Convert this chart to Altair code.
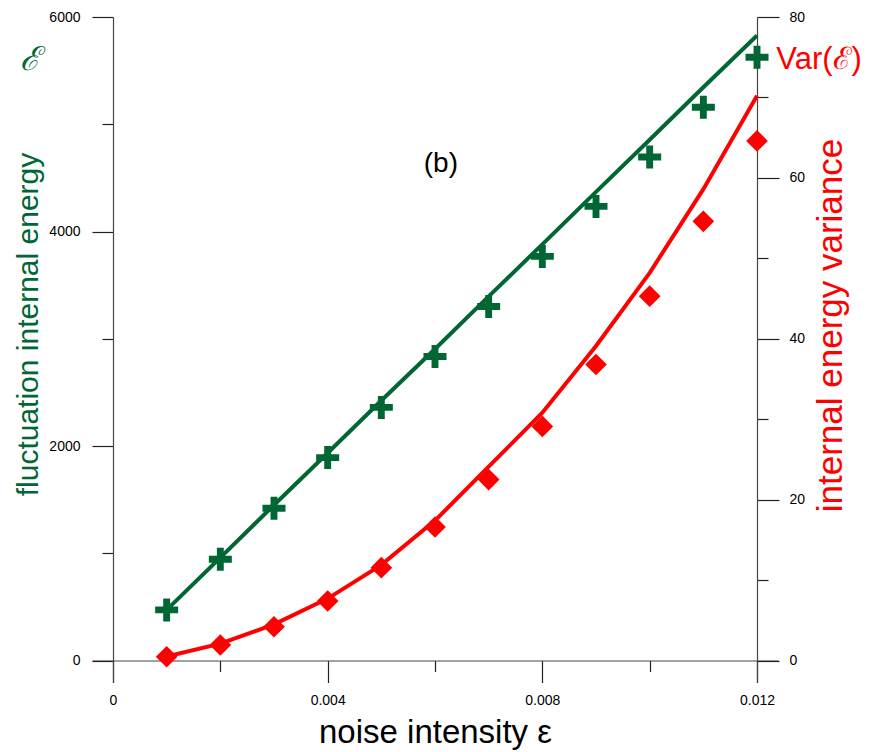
import altair as alt
import pandas as pd

# ---- data ----
noise = [0.001, 0.002, 0.003, 0.004, 0.005, 0.006, 0.007, 0.008, 0.009, 0.010, 0.011, 0.012]
energy_pts = [472, 944, 1420, 1892, 2360, 2835, 3301, 3768, 4234, 4695, 5158, 5625]
energy_line = [472, 960, 1450, 1935, 2425, 2905, 3395, 3880, 4370, 4855, 5345, 5828]
var_pts = [0.47, 1.93, 4.2, 7.4, 11.55, 16.6, 22.5, 29.1, 36.8, 45.3, 54.6, 64.6]
var_line = [0.5, 2.1, 4.5, 7.7, 11.9, 17.4, 24.1, 30.8, 39.1, 48.2, 58.6, 70.2]

x_ticks = [0, 0.002, 0.004, 0.006, 0.008, 0.010, 0.012]
yl_ticks = [0, 1000, 2000, 3000, 4000, 5000, 6000]
yr_ticks = [0, 10, 20, 30, 40, 50, 60, 70, 80]

GREEN = "#006633"
RED = "#ff0000"
FONT = "Liberation Sans"

df = pd.DataFrame({"x": noise, "ep": energy_pts, "el": energy_line,
                   "vp": var_pts, "vl": var_line})

# annotations (data coordinates, left scale)
ann_b = pd.DataFrame({"x": [0.00611], "y": [4630], "t": ["(b)"]})
ann_e = pd.DataFrame({"x": [-0.00155], "y": [5600], "t": ["ℰ"]})
ann_v = pd.DataFrame({"x": [0.01236], "y": [5600], "t": ["Var(ℰ)"]})

x_axis = alt.Axis(
    values=x_ticks, format=".3~f", orient="bottom", offset=-21.5,
    labelExpr="round(datum.value*1000) % 4 == 0 ? datum.label : ''",
    tickSize={"condition": {"test": "round(datum.value*1000) % 4 == 0", "value": 22}, "value": 11},
    labelPadding=11, labelFont=FONT, labelFontSize=14, labelColor="black",
    labelOverlap=False, labelFlush=False, labelBound=False,
    domainColor="#444", tickColor="#222", domainWidth=1.2, tickWidth=1.2, grid=False,
    title="noise intensity ε", titleFont=FONT, titleFontSize=33, titleFontWeight="normal",
    titleColor="black", titleX=343, titleY=82, titleBaseline="alphabetic", titleAlign="center",
)

yl_axis = alt.Axis(
    values=yl_ticks, format="d", orient="left", offset=-21,
    labelExpr="datum.value % 2000 == 0 ? datum.label : ''",
    tickSize={"condition": {"test": "datum.value % 2000 == 0", "value": 21}, "value": 11},
    labelPadding=12, labelFont=FONT, labelFontSize=14, labelColor="black",
    labelOverlap=False, labelFlush=False, labelBound=False,
    domainColor="#444", tickColor="#222", domainWidth=1.2, tickWidth=1.2, grid=False,
    title="fluctuation internal energy", titleFont=FONT, titleFontSize=30,
    titleFontWeight="normal", titleColor=GREEN, titleAngle=270,
    titleX=-76, titleY=307, titleBaseline="alphabetic", titleAlign="center",
)

yr_axis = alt.Axis(
    values=yr_ticks, format="d", orient="right", offset=-21,
    labelExpr="datum.value % 20 == 0 ? datum.label : ''",
    tickSize={"condition": {"test": "datum.value % 20 == 0", "value": 22}, "value": 11},
    labelPadding=10, labelFont=FONT, labelFontSize=14, labelColor="black",
    labelOverlap=False, labelFlush=False, labelBound=False,
    domainColor="#444", tickColor="#222", domainWidth=1.2, tickWidth=1.2, grid=False,
    title="internal energy variance", titleFont=FONT, titleFontSize=35,
    titleFontWeight="normal", titleColor=RED, titleAngle=270,
    titleX=84, titleY=308, titleBaseline="alphabetic", titleAlign="center",
)

x_scale = alt.Scale(domain=[-0.000391, 0.012391], nice=False, zero=False)
yl_scale = alt.Scale(domain=[-200, 6000], nice=False, zero=False)
yr_scale = alt.Scale(domain=[-200 / 6000 * 80, 80], nice=False, zero=False)


def X():
    return alt.X("x:Q", scale=x_scale, axis=x_axis)


def YL(f):
    return alt.Y(f"{f}:Q", scale=yl_scale, axis=yl_axis)


def YR(f):
    return alt.Y(f"{f}:Q", scale=yr_scale, axis=yr_axis)


PLUS = ("M-1,-0.3L-0.3,-0.3L-0.3,-1L0.3,-1L0.3,-0.3L1,-0.3L1,0.3L0.3,0.3"
        "L0.3,1L-0.3,1L-0.3,0.3L-1,0.3Z")

base = alt.Chart(df)

green_line = base.mark_line(color=GREEN, strokeWidth=4).encode(x=X(), y=YL("el"))
green_pts = base.mark_point(shape=PLUS, filled=True, fill=GREEN, color=GREEN,
                            size=529, opacity=1, strokeWidth=0).encode(x=X(), y=YL("ep"))
txt_b = alt.Chart(ann_b).mark_text(font=FONT, fontSize=28, color="black",
                                   align="center", baseline="middle").encode(
    x=X(), y=YL("y"), text="t:N")
txt_e = alt.Chart(ann_e).mark_text(font="DejaVu Serif", fontStyle="italic", fontSize=33,
                                   color=GREEN, align="center", baseline="middle").encode(
    x=X(), y=YL("y"), text="t:N")
txt_v = alt.Chart(ann_v).mark_text(font=FONT, fontSize=31, color=RED,
                                   align="left", baseline="middle").encode(
    x=X(), y=YL("y"), text="t:N")

green = alt.layer(green_line, green_pts, txt_b, txt_e, txt_v)

red_line = base.mark_line(color=RED, strokeWidth=4).encode(x=X(), y=YR("vl"))
red_pts = base.mark_point(shape="diamond", filled=True, fill=RED, color=RED,
                          size=470, opacity=1, strokeWidth=0).encode(x=X(), y=YR("vp"))
red = alt.layer(red_line, red_pts)

chart = alt.layer(green, red).resolve_scale(y="independent").properties(
    width=686, height=665,
    autosize=alt.AutoSizeParams(type="none"),
    padding={"left": 92, "top": 17, "right": 92, "bottom": 70},
    background="white",
).configure_view(stroke=None)

chart.save("out.html", embed_options={"renderer": "svg", "actions": False})
